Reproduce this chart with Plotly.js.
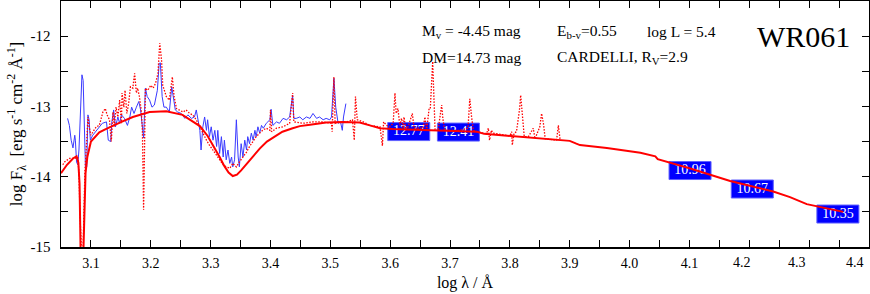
<!DOCTYPE html>
<html>
<head>
<meta charset="utf-8">
<script src="https://cdn.plot.ly/plotly-3.0.1.min.js"></script>
<style>html,body{margin:0;padding:0;background:#fff;}#chart{width:870px;height:294px;}</style>
</head>
<body>
<div id="chart"></div>
<script>
// Observed spectrum (blue)
const obsLogLam = [3.061,3.064,3.067,3.070,3.073,3.074,3.076,3.078,3.080,3.083,3.085,3.087,3.089,3.091,3.093,3.095,3.097,3.099,3.103,3.109,3.114,3.119,3.126,3.129,3.133,3.135,3.138,3.141,3.145,3.148,3.151,3.156,3.161,3.165,3.168,3.172,3.176,3.180,3.183,3.186,3.188,3.191,3.194,3.198,3.202,3.206,3.211,3.214,3.216,3.219,3.222,3.226,3.231,3.235,3.238,3.241,3.245,3.251,3.257,3.262,3.268,3.273,3.276,3.279,3.282,3.284,3.287,3.290,3.293,3.295,3.298,3.301,3.304,3.307,3.310,3.312,3.315,3.318,3.321,3.323,3.326,3.329,3.332,3.335,3.337,3.340,3.343,3.346,3.348,3.351,3.354,3.357,3.360,3.362,3.365,3.368,3.371,3.374,3.376,3.379,3.382,3.385,3.388,3.393,3.396,3.399,3.401,3.404,3.410,3.415,3.421,3.427,3.432,3.437,3.439,3.443,3.449,3.454,3.460,3.466,3.471,3.477,3.482,3.488,3.493,3.499,3.502,3.506,3.509,3.513,3.517,3.520,3.522,3.526];
const obsLogF = [-13.17,-13.27,-13.48,-13.59,-13.41,-13.48,-13.79,-13.83,-13.62,-12.86,-12.55,-12.63,-13.29,-13.90,-13.86,-13.12,-13.19,-13.48,-13.41,-13.34,-13.29,-13.24,-13.22,-13.48,-13.50,-13.22,-13.05,-13.29,-13.15,-13.24,-13.12,-13.17,-13.27,-13.15,-13.01,-13.10,-13.01,-12.93,-13.05,-13.29,-13.45,-12.74,-12.86,-12.91,-13.01,-12.98,-12.77,-12.39,-12.38,-12.86,-13.01,-13.01,-13.08,-12.72,-12.86,-13.05,-13.08,-13.10,-13.17,-13.12,-13.17,-13.15,-13.05,-13.19,-13.34,-13.62,-13.29,-13.15,-13.34,-13.19,-13.43,-13.29,-13.48,-13.34,-13.57,-13.34,-13.67,-13.43,-13.72,-13.48,-13.76,-13.62,-13.81,-13.72,-13.86,-13.76,-13.19,-13.72,-13.86,-13.53,-13.72,-13.48,-13.62,-13.43,-13.53,-13.38,-13.48,-13.34,-13.43,-13.29,-13.38,-13.27,-13.31,-13.24,-13.22,-13.19,-13.04,-13.27,-13.22,-13.24,-13.17,-13.19,-13.15,-12.84,-13.17,-13.17,-13.15,-13.19,-13.15,-13.17,-13.10,-13.17,-13.15,-13.19,-13.17,-13.19,-13.15,-12.60,-13.01,-13.24,-13.22,-13.34,-13.15,-12.96];

// Model spectrum with lines (red dotted)
const modLogLam = [3.053,3.056,3.064,3.073,3.078,3.080,3.082,3.084,3.086,3.088,3.090,3.093,3.095,3.097,3.100,3.105,3.109,3.114,3.120,3.124,3.127,3.131,3.134,3.137,3.139,3.142,3.145,3.148,3.151,3.152,3.155,3.157,3.160,3.163,3.166,3.170,3.173,3.176,3.178,3.181,3.184,3.186,3.188,3.190,3.191,3.195,3.200,3.204,3.208,3.212,3.215,3.218,3.220,3.226,3.231,3.236,3.239,3.243,3.248,3.254,3.259,3.265,3.270,3.276,3.282,3.287,3.293,3.298,3.304,3.310,3.315,3.321,3.326,3.332,3.337,3.343,3.348,3.354,3.360,3.365,3.371,3.376,3.382,3.387,3.393,3.399,3.400,3.402,3.410,3.421,3.432,3.437,3.439,3.454,3.471,3.488,3.502,3.503,3.506,3.508,3.516,3.527,3.537,3.540,3.542,3.545,3.555,3.566,3.583,3.587,3.589,3.594,3.599,3.605,3.608,3.610,3.613,3.616,3.619,3.622,3.623,3.626,3.630,3.637,3.640,3.647,3.655,3.658,3.661,3.665,3.667,3.671,3.673,3.675,3.680,3.686,3.688,3.691,3.700,3.716,3.730,3.733,3.736,3.739,3.745,3.761,3.764,3.766,3.769,3.772,3.800,3.803,3.804,3.807,3.811,3.816,3.818,3.821,3.824,3.831,3.839,3.842,3.850,3.853,3.856,3.859,3.878,3.881,3.884];
const modLogF = [-13.83,-13.79,-13.74,-13.74,-13.72,-13.95,-14.6,-15.4,-15.4,-14.6,-13.90,-13.48,-13.15,-13.29,-13.41,-13.34,-13.29,-13.27,-13.08,-13.03,-13.12,-13.19,-13.50,-13.08,-13.29,-13.01,-13.15,-12.91,-13.24,-12.81,-13.01,-12.77,-13.10,-12.96,-12.72,-12.74,-12.53,-12.81,-12.74,-12.86,-13.05,-13.34,-14.47,-13.34,-12.74,-12.77,-12.70,-12.74,-12.67,-12.53,-12.10,-12.34,-12.70,-12.86,-12.91,-12.58,-12.86,-13.03,-13.05,-13.08,-13.05,-13.10,-13.12,-13.19,-13.29,-13.38,-13.48,-13.55,-13.62,-13.69,-13.76,-13.83,-13.86,-13.88,-13.81,-13.86,-13.79,-13.72,-13.65,-13.57,-13.50,-13.43,-13.38,-13.34,-13.31,-13.34,-13.05,-13.36,-13.31,-13.29,-13.24,-12.81,-13.22,-13.24,-13.22,-13.22,-13.24,-13.36,-12.58,-13.24,-13.22,-13.22,-13.19,-13.48,-12.86,-13.19,-13.22,-13.27,-13.29,-13.56,-13.22,-13.27,-13.29,-13.24,-12.81,-13.10,-13.03,-13.27,-13.17,-13.31,-13.15,-13.31,-13.29,-13.10,-13.31,-13.31,-13.31,-13.15,-13.34,-13.03,-13.03,-12.36,-12.81,-13.34,-13.34,-12.98,-13.17,-13.34,-13.34,-13.34,-13.31,-12.89,-13.15,-13.34,-13.36,-13.39,-13.31,-13.48,-13.34,-13.38,-13.42,-13.36,-13.55,-13.38,-13.36,-13.05,-12.84,-13.10,-13.43,-13.43,-13.31,-13.46,-13.29,-13.10,-13.24,-13.46,-13.48,-13.27,-13.48];

// Reddened continuum (red solid)
const contLogLam = [3.050,3.060,3.070,3.076,3.079,3.081,3.083,3.085,3.087,3.089,3.091,3.094,3.100,3.114,3.123,3.151,3.170,3.198,3.215,3.226,3.253,3.282,3.295,3.305,3.315,3.323,3.330,3.337,3.344,3.351,3.360,3.370,3.382,3.394,3.410,3.420,3.437,3.449,3.466,3.493,3.521,3.549,3.566,3.583,3.604,3.661,3.716,3.745,3.757,3.800,3.855,3.900,3.911,3.917,3.962,4.018,4.043,4.047,4.100,4.162,4.168,4.240,4.268,4.296,4.357];
const contLogF = [-13.95,-13.83,-13.74,-13.71,-13.80,-14.10,-15.2,-15.5,-15.2,-14.4,-13.95,-13.72,-13.50,-13.37,-13.33,-13.22,-13.15,-13.08,-13.07,-13.07,-13.12,-13.28,-13.42,-13.56,-13.72,-13.85,-13.94,-13.99,-13.97,-13.91,-13.82,-13.72,-13.60,-13.50,-13.41,-13.36,-13.31,-13.28,-13.26,-13.23,-13.22,-13.23,-13.27,-13.31,-13.32,-13.34,-13.35,-13.36,-13.39,-13.42,-13.45,-13.49,-13.53,-13.55,-13.59,-13.66,-13.71,-13.75,-13.88,-14.04,-14.06,-14.21,-14.29,-14.39,-14.50];

// Photometry (blue boxes)
const photLogLam = [3.631,3.714,4.101,4.205,4.348];
const photLogF = [-13.358,-13.365,-13.912,-14.175,-14.531];
const photMag = ["12.77","12.41","10.96","10.67","10.35"];

// Axis tick labels
const xTickVals = [3.1,3.2,3.3,3.4,3.5,3.6,3.7,3.8,3.9,4.0,4.1];
const xTickText = ["3.1","3.2","3.3","3.4","3.5","3.6","3.7","3.8","3.9","4.0","4.1"];
const xExtraVals = [4.187,4.280,4.377];
const xExtraText = ["4.2","4.3","4.4"];
const yTickVals = [-15,-14,-13,-12];
const yTickText = ["-15","-14","-13","-12"];

const FONT = "Liberation Serif, Times New Roman, serif";

const traces = [
  {x: photLogLam, y: photLogF, text: photMag, mode: 'text', type: 'scatter',
   textfont: {family: FONT, size: 14, color: '#ffffff'}, textposition: 'middle center',
   hoverinfo: 'skip', showlegend: false},
  {x: obsLogLam, y: obsLogF, mode: 'lines', type: 'scatter',
   line: {color: '#3a3aff', width: 1}, showlegend: false},
  {x: modLogLam, y: modLogF, mode: 'lines', type: 'scatter',
   line: {color: '#ff0000', width: 1.3, dash: '1.5px,1.5px'}, showlegend: false},
  {x: contLogLam, y: contLogF, mode: 'lines', type: 'scatter',
   line: {color: '#ff0000', width: 2}, showlegend: false}
];

const shapes = photLogLam.map((v, i) => ({
  type: 'rect', xref: 'x', yref: 'y', layer: 'below',
  xsizemode: 'pixel', ysizemode: 'pixel',
  xanchor: v, yanchor: photLogF[i],
  x0: -21, x1: 21, y0: -9, y1: 9,
  fillcolor: '#0000ff', line: {color: '#6060ff', width: 1}
}));

const annFont = {family: FONT, size: 15.5, color: '#000'};
const annotations = [
  {xref: 'paper', yref: 'paper', x: 0.444, y: 0.878, xanchor: 'left', yanchor: 'middle', showarrow: false, text: 'M<sub>v</sub> = -4.45 mag', font: annFont},
  {xref: 'paper', yref: 'paper', x: 0.611, y: 0.878, xanchor: 'left', yanchor: 'middle', showarrow: false, text: 'E<sub>b-v</sub>=0.55', font: annFont},
  {xref: 'paper', yref: 'paper', x: 0.7225, y: 0.878, xanchor: 'left', yanchor: 'middle', showarrow: false, text: 'log L = 5.4', font: annFont},
  {xref: 'paper', yref: 'paper', x: 0.444, y: 0.77, xanchor: 'left', yanchor: 'middle', showarrow: false, text: 'DM=14.73 mag', font: annFont},
  {xref: 'paper', yref: 'paper', x: 0.611, y: 0.77, xanchor: 'left', yanchor: 'middle', showarrow: false, text: 'CARDELLI, R<sub>V</sub>=2.9', font: annFont},
  {xref: 'paper', yref: 'paper', x: 0.859, y: 0.857, xanchor: 'left', yanchor: 'middle', showarrow: false, text: 'WR061', font: {family: FONT, size: 30, color: '#000'}}
].concat(xExtraVals.map((v, i) => ({
  xref: 'x', yref: 'paper', x: v, y: -0.065, xanchor: 'center', yanchor: 'middle',
  showarrow: false, text: xExtraText[i], font: {family: FONT, size: 14, color: '#000'}
})));

const layout = {
  width: 870, height: 294,
  margin: {l: 61, r: 1, t: 1, b: 47, pad: 0},
  paper_bgcolor: '#fff', plot_bgcolor: '#fff',
  font: {family: FONT, size: 14, color: '#000'},
  showlegend: false,
  xaxis: {
    range: [3.05, 4.4], tickmode: 'array', tickvals: xTickVals, ticktext: xTickText,
    ticks: 'inside', ticklen: 7, tickwidth: 1, tickcolor: '#000',
    minor: {dtick: 0.05, tick0: 3.0, ticks: 'inside', ticklen: 7, tickwidth: 1, tickcolor: '#000', showgrid: false},
    showline: true, linecolor: '#000', linewidth: 1.5, mirror: 'ticks',
    showgrid: false, zeroline: false, ticklabelstandoff: 3,
    tickfont: {family: FONT, size: 14},
    title: {text: 'log λ / Å', font: {family: FONT, size: 16}, standoff: 6}
  },
  yaxis: {
    range: [-15, -11.5], tickmode: 'array', tickvals: yTickVals, ticktext: yTickText,
    ticks: 'inside', ticklen: 7, tickwidth: 1, tickcolor: '#000',
    minor: {dtick: 0.5, tick0: -15, ticks: 'inside', ticklen: 7, tickwidth: 1, tickcolor: '#000', showgrid: false},
    showline: true, linecolor: '#000', linewidth: 1.5, mirror: 'ticks',
    showgrid: false, zeroline: false, ticklabelstandoff: 6,
    tickfont: {family: FONT, size: 15},
    title: {text: 'log F<sub>λ</sub>  [erg s<sup>-1</sup> cm<sup>-2</sup> Å<sup>-1</sup>]', font: {family: FONT, size: 17}, standoff: 3}
  },
  shapes: shapes,
  annotations: annotations
};

Plotly.newPlot('chart', traces, layout, {staticPlot: true, displayModeBar: false});
</script>
</body>
</html>
